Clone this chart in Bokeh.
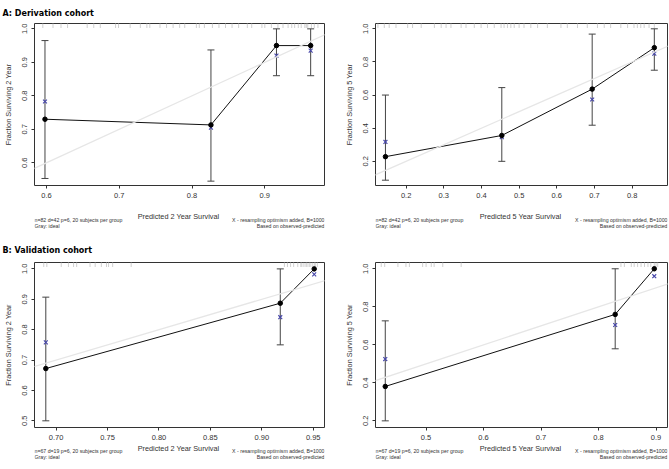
import math
from bokeh.plotting import figure
from bokeh.layouts import column, row
from bokeh.models import (ColumnDataSource, Range1d, FixedTicker, PrintfTickFormatter,
                          Whisker, TeeHead, Slope, Title)
from bokeh.core.properties import value
from bokeh.embed import file_html
from bokeh.resources import INLINE

# ---------------- data ----------------
# A: Derivation cohort, 2 year
a2_pred = [0.598, 0.826, 0.916, 0.963]
a2_obs = [0.730, 0.713, 0.950, 0.950]
a2_lo = [0.553, 0.545, 0.860, 0.860]
a2_hi = [0.965, 0.937, 1.000, 1.000]
a2_corr = [0.783, 0.705, 0.920, 0.935]
a2_rug = [0.595, 0.609, 0.620, 0.629, 0.656, 0.665, 0.674, 0.695, 0.699, 0.715, 0.729, 0.738,
          0.742, 0.756, 0.765, 0.774, 0.783, 0.790, 0.806, 0.810, 0.817, 0.828, 0.837, 0.846,
          0.855, 0.864, 0.876, 0.882, 0.896, 0.900, 0.909, 0.918, 0.925, 0.932, 0.937, 0.941,
          0.946, 0.950, 0.955, 0.957, 0.959, 0.964, 0.968, 0.973]

# A: Derivation cohort, 5 year
a5_pred = [0.145, 0.454, 0.694, 0.859]
a5_obs = [0.228, 0.356, 0.636, 0.886]
a5_lo = [0.086, 0.200, 0.418, 0.750]
a5_hi = [0.600, 0.645, 0.968, 1.000]
a5_corr = [0.317, 0.346, 0.573, 0.850]
a5_rug = [0.125, 0.142, 0.155, 0.173, 0.204, 0.217, 0.240, 0.275, 0.293, 0.306, 0.319, 0.346,
          0.359, 0.381, 0.399, 0.416, 0.434, 0.452, 0.460, 0.469, 0.478, 0.487, 0.500, 0.513,
          0.531, 0.549, 0.575, 0.611, 0.628, 0.655, 0.681, 0.708, 0.726, 0.743, 0.770, 0.788,
          0.805, 0.814, 0.823, 0.832, 0.845, 0.859]

# B: Validation cohort, 2 year
b2_pred = [0.690, 0.918, 0.951]
b2_obs = [0.672, 0.887, 1.000]
b2_lo = [0.500, 0.750, 1.000]
b2_hi = [0.907, 1.000, 1.000]
b2_corr = [0.758, 0.841, 0.982]
b2_rug = [0.688, 0.691, 0.705, 0.712, 0.717, 0.720, 0.733, 0.738, 0.744, 0.749, 0.751, 0.755,
          0.773, 0.922, 0.925, 0.928, 0.931, 0.935, 0.938, 0.939, 0.941, 0.943, 0.944, 0.946,
          0.947, 0.949, 0.951, 0.952, 0.954]

# B: Validation cohort, 5 year
b5_pred = [0.429, 0.829, 0.897]
b5_obs = [0.381, 0.760, 1.000]
b5_lo = [0.200, 0.579, 1.000]
b5_hi = [0.726, 1.000, 1.000]
b5_corr = [0.525, 0.704, 0.961]
b5_rug = [0.422, 0.428, 0.451, 0.465, 0.471, 0.494, 0.500, 0.509, 0.514, 0.529, 0.561, 0.839,
          0.845, 0.857, 0.862, 0.868, 0.874, 0.880, 0.886, 0.891, 0.897, 0.900, 0.903]

# axis ticks
a2_xticks = [0.6, 0.7, 0.8, 0.9]
a2_yticks = [0.6, 0.7, 0.8, 0.9, 1.0]
a5_xticks = [0.2, 0.3, 0.4, 0.5, 0.6, 0.7, 0.8]
a5_yticks = [0.2, 0.4, 0.6, 0.8, 1.0]
b2_xticks = [0.70, 0.75, 0.80, 0.85, 0.90, 0.95]
b2_yticks = [0.5, 0.6, 0.7, 0.8, 0.9, 1.0]
b5_xticks = [0.5, 0.6, 0.7, 0.8, 0.9]
b5_yticks = [0.2, 0.4, 0.6, 0.8, 1.0]

titles = ["A: Derivation cohort", "B: Validation cohort"]
xlabels = ["Predicted  2 Year Survival", "Predicted  5 Year Survival"]
ylabels = ["Fraction Surviving 2 Year", "Fraction Surviving 5 Year"]
notes_a = ["n=82 d=42 p=6, 20 subjects per group", "Gray: ideal"]
notes_b = ["n=67 d=19 p=6, 20 subjects per group", "Gray: ideal"]
notes_r = ["X - resampling optimism added, B=1000", "Based on observed-predicted"]

FONT = "Liberation Sans"
TXT = "#333333"


def panel(pred, obs, lo, hi, corr, rug, xr, yr, xticks, yticks, xfmt, xlabel, ylabel,
          notes_left, width, borders, main_h, note_h, note_y, title=None, title_gap=12):
    bl, br, bt, bb = borders
    p = figure(width=width, height=main_h, x_range=Range1d(*xr), y_range=Range1d(*yr),
               output_backend="svg", toolbar_location=None,
               min_border_left=bl, min_border_right=br, min_border_top=bt, min_border_bottom=bb)
    p.xgrid.visible = False
    p.ygrid.visible = False
    p.outline_line_color = "#333333"
    p.outline_line_width = 1
    p.border_fill_color = "white"

    for ax in (p.xaxis[0], p.yaxis[0]):
        ax.axis_line_color = None
        ax.major_tick_out = 3
        ax.major_tick_in = 0
        ax.minor_tick_line_color = None
        ax.major_tick_line_color = "#333333"
        ax.major_label_text_font = FONT
        ax.major_label_text_font_size = "7.5px"
        ax.major_label_text_color = TXT
        ax.axis_label_text_font = FONT
        ax.axis_label_text_font_size = "7.3px"
        ax.axis_label_text_font_style = "normal"
        ax.axis_label_text_color = TXT
    p.xaxis.ticker = FixedTicker(ticks=xticks)
    p.yaxis.ticker = FixedTicker(ticks=yticks)
    p.xaxis.formatter = PrintfTickFormatter(format=xfmt)
    p.yaxis.formatter = PrintfTickFormatter(format="%.1f")
    p.yaxis.major_label_orientation = "vertical"
    p.xaxis.major_label_standoff = 4
    p.yaxis.axis_label = ylabel
    p.yaxis.major_label_standoff = 4
    p.yaxis.axis_label_standoff = 7

    if title:
        p.add_layout(Title(text=title, align="left", offset=-(bl - 1),
                           text_font="DejaVu Sans", text_font_size="8px",
                           text_line_height=0.9,
                           text_font_style="bold", text_color="black",
                           standoff=title_gap), "above")

    # ideal line
    p.add_layout(Slope(gradient=1, y_intercept=0, line_color="#e6e6e6", line_width=1.3))

    # rug of predicted values along top
    p.scatter(x=rug, y=[yr[1]] * len(rug), marker="dash", angle=math.pi / 2, size=9,
              line_color="#c4c4c4", line_width=0.8)

    # error bars
    keep = [i for i in range(len(pred)) if hi[i] > lo[i]]
    wsrc = ColumnDataSource(dict(x=[pred[i] for i in keep], lo=[lo[i] for i in keep],
                                 hi=[hi[i] for i in keep]))
    p.add_layout(Whisker(source=wsrc, base="x", lower="lo", upper="hi", dimension="height",
                         line_color="#444444", line_width=1,
                         upper_head=TeeHead(size=7, line_color="#444444", line_width=1),
                         lower_head=TeeHead(size=7, line_color="#444444", line_width=1)))

    src = ColumnDataSource(dict(x=pred, y=obs, c=corr))
    p.line("x", "y", source=src, line_color="#111111", line_width=1)
    p.scatter("x", "c", source=src, marker="x", size=5.5, line_color="#4545a8", line_width=1.1)
    p.scatter("x", "y", source=src, marker="circle", size=4.5, fill_color="black",
              line_color="black")

    # note strip below the plot (axis title + footnotes); its frame aligns with the plot frame
    n = figure(width=width, height=note_h, x_range=Range1d(0, 1), y_range=Range1d(note_h, 0),
               output_backend="svg", toolbar_location=None, x_axis_type=None,
               y_axis_type=None, min_border=0, min_border_left=0, min_border_right=0,
               min_border_top=0, min_border_bottom=0)
    n.outline_line_color = None
    n.xgrid.visible = False
    n.ygrid.visible = False
    xl, y1, y2 = note_y
    n.text(x=[0.5], y=[xl], text=[xlabel], text_font=value(FONT),
           text_font_size="7.3px", text_color=TXT, text_align="center",
           text_baseline="middle")
    n.text(x=[0, 0], y=[y1, y2], text=notes_left, text_font=value(FONT),
           text_font_size="5.2px", text_color=TXT, text_align="left", text_baseline="middle")
    n.text(x=[1, 1], y=[y1, y2], text=notes_r, text_font=value(FONT),
           text_font_size="5.2px", text_color=TXT, text_align="right", text_baseline="middle")
    return column(p, n, spacing=0)


p1 = panel(a2_pred, a2_obs, a2_lo, a2_hi, a2_corr, a2_rug, (0.5836, 0.982), (0.532, 1.016),
           a2_xticks, a2_yticks, "%.1f", xlabels[0], ylabels[0], notes_a, 334,
           (33, 10, 23, 18), 203, 29, (13, 16, 22.5), title=titles[0], title_gap=12)
p2 = panel(a5_pred, a5_obs, a5_lo, a5_hi, a5_corr, a5_rug, (0.1186, 0.894), (0.054, 1.032),
           a5_xticks, a5_yticks, "%.1f", xlabels[1], ylabels[1], notes_a, 335,
           (41, 2, 23, 18), 203, 29, (13, 16, 22.5))
p3 = panel(b2_pred, b2_obs, b2_lo, b2_hi, b2_corr, b2_rug, (0.679, 0.961), (0.478, 1.021),
           b2_xticks, b2_yticks, "%.2f", xlabels[0], ylabels[0], notes_b, 334,
           (33, 10, 30, 16), 211, 26, (5, 7.5, 13.3), title=titles[1], title_gap=15)
p4 = panel(b5_pred, b5_obs, b5_lo, b5_hi, b5_corr, b5_rug, (0.412, 0.92), (0.165, 1.033),
           b5_xticks, b5_yticks, "%.1f", xlabels[1], ylabels[1], notes_b, 335,
           (41, 2, 30, 16), 211, 26, (5, 7.5, 13.3))

layout = column(row(p1, p2, spacing=0), row(p3, p4, spacing=0), spacing=0)
open("out.html", "w").write(file_html(layout, INLINE))
